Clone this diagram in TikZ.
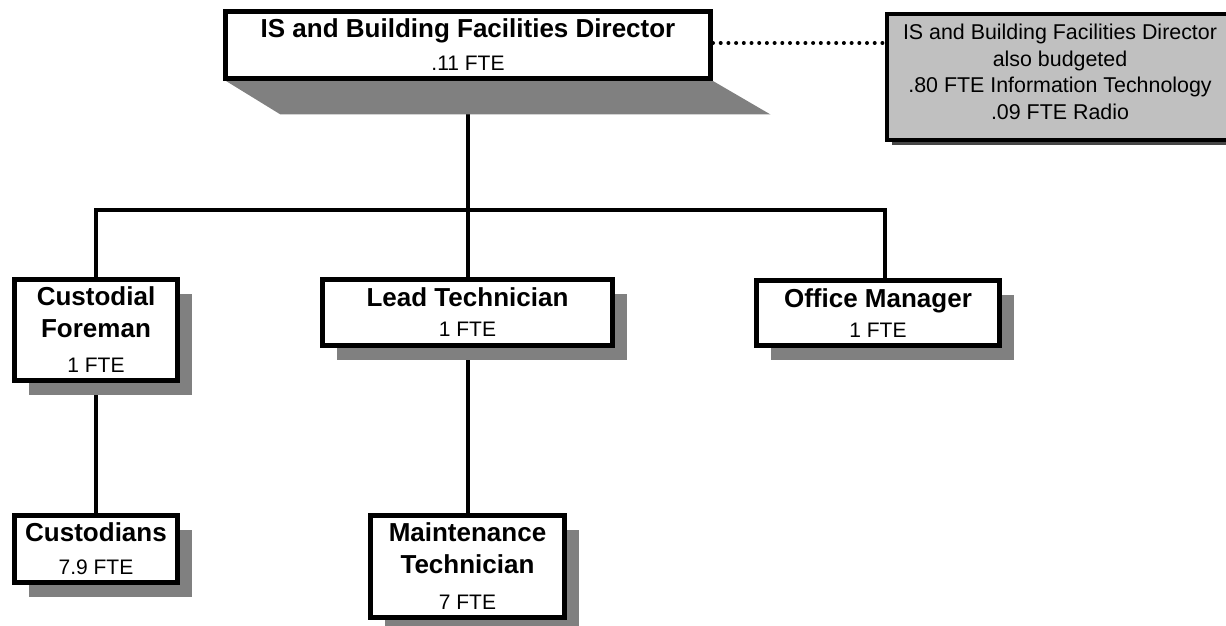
\documentclass[tikz,border=0pt]{standalone}
\usepackage{fontspec}
\setmainfont{Liberation Sans}
\usepackage{tikz}
\usetikzlibrary{calc, shadows, backgrounds}
\definecolor{shadowgrey}{RGB}{128,128,128}
\definecolor{notegrey}{RGB}{192,192,192}
\definecolor{darkshadow}{RGB}{70,70,70}
\newcommand{\ttlfont}{\fontsize{13}{16}\selectfont\bfseries}
\newcommand{\ftefont}{\fontsize{10.5}{13}\selectfont\mdseries}

\begin{document}
\begin{tikzpicture}[x=0.5pt, y=-0.5pt,
    post/.style={draw, line width=2.5pt, fill=white, align=center, inner sep=0pt, font=\ttlfont},
    lifted/.style={post, drop shadow={shadow xshift=7pt, shadow yshift=-7pt, fill=shadowgrey, opacity=1}},
    note/.style={draw, line width=2pt, fill=notegrey, inner sep=0pt,
        drop shadow={shadow xshift=2.5pt, shadow yshift=-2.5pt, fill=darkshadow, opacity=1}},
    notetext/.style={align=center, inner sep=0pt, font=\fontsize{10.7}{13.3}\selectfont},
    link/.style={line width=2pt}]
    \useasboundingbox (0,0) rectangle (1226,626);

    % top of the chart
    \node[post, minimum width=242.5pt, minimum height=33.5pt] (director) at (468,45)
        {IS and Building Facilities Director\\[0.5pt]\ftefont .11 FTE};
    \node[note, minimum width=173pt, minimum height=63pt] (note) at (1060,77) {};
    \node[notetext] (notetxt) at ([yshift=2.5pt]note.center)
        {IS and Building Facilities Director\\also budgeted\\.80 FTE Information Technology\\.09 FTE Radio};

    % second row
    \node[lifted, minimum width=81.5pt, minimum height=50.5pt] (custodial) at (96,330)
        {Custodial\\Foreman\\[1.5pt]\ftefont 1 FTE};
    \node[lifted, minimum width=145pt, minimum height=33pt] (lead) at (467.5,312.5)
        {Lead Technician\\[-1pt]\ftefont 1 FTE};
    \node[lifted, minimum width=121.5pt, minimum height=32.5pt] (office) at (878,313)
        {Office Manager\\[-1pt]\ftefont 1 FTE};

    % third row
    \node[lifted, minimum width=81.5pt, minimum height=33.5pt] (custodians) at (96,549)
        {Custodians\\[0.5pt]\ftefont 7.9 FTE};
    \node[lifted, minimum width=97pt, minimum height=51pt] (maint) at (467.5,566.5)
        {Maintenance\\Technician\\[2pt]\ftefont 7 FTE};

    \draw[line width=2pt, line cap=round, dash pattern=on 0pt off 3.85pt]
        ([yshift=1pt]director.east) -- ([yshift=1pt]director.east -| note.west);

    \begin{scope}[on background layer]
        \coordinate (bus) at (468,210);
        \draw[link] (director.south) -- (director.south |- bus);
        \draw[link] (custodial.north) |- (bus) -| ([xshift=3.5pt]office.north);
        \draw[link] (lead.north) -- (lead.north |- bus);
        \draw[link] (custodial.south) -- (custodians.north);
        \draw[link] (lead.south) -- (maint.north);
        \fill[shadowgrey] ($(director.south west)+(3,0)$) -- (director.south east)
            -- ($(director.south east)+(57.5,33.5)$) -- ($(director.south west)+(57.5,33.5)$) -- cycle;
    \end{scope}
\end{tikzpicture}
\end{document}
